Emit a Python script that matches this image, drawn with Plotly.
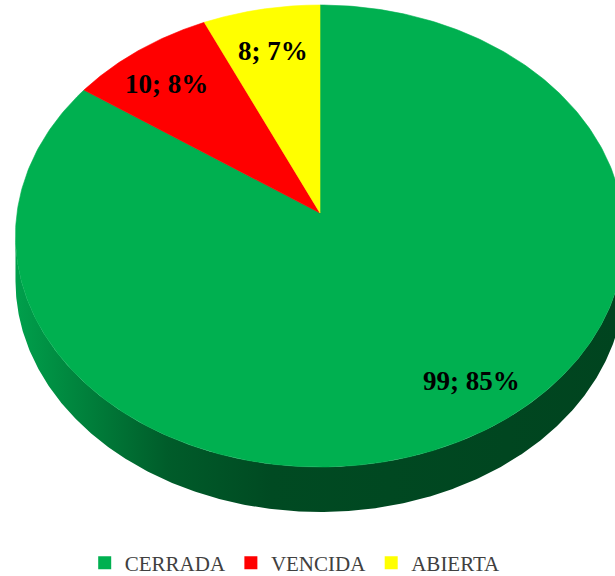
import numpy as np
import plotly.graph_objects as go

# ---------------- data ----------------
categories = ["CERRADA", "VENCIDA", "ABIERTA"]
values = [99, 10, 8]
pct_labels = ["85%", "8%", "7%"]

# ---------------- style ----------------
colors = ["#00B050", "#FF0000", "#FFFF00"]
side_scale = [[0.0, "#00a04c"], [0.08, "#008a40"], [0.25, "#005c2a"],
              [0.42, "#004a22"], [1.0, "#00441f"]]

W, H = 615, 576
CX, CY = 320, 213        # pie centre (vertex) in pixel space
RX, RY = 303, 228.7      # radii of the tilted disc
K = 0.0996               # perspective factor
DEPTH = 45               # thickness of the 3D side
LABEL_R = 0.78
label_nudge = [(34, -2), (-10, 0), (0, 0)]


def proj(theta_deg, r=1.0):
    t = np.radians(theta_deg)
    u = r * np.sin(t)
    v = -r * np.cos(t)
    w = 1 - K * v
    return CX + RX * u / w, CY + RY * v / w


total = float(sum(values))
bounds = np.concatenate([[0], np.cumsum(values)]) / total * 360.0

fig = go.Figure()

# side (front visible arc)
th_all = np.linspace(0, 360, 1441)
xa, ya = proj(th_all)
i_right = int(np.argmax(xa[: 720]))
i_left = 720 + int(np.argmin(xa[720:]))
front_start, front_end = th_all[i_right], th_all[i_left]

for i, cat in enumerate(categories):
    a1, a2 = max(bounds[i], front_start), min(bounds[i + 1], front_end)
    if a2 <= a1:
        continue
    th = np.linspace(a1, a2, 400)
    x, y = proj(th)
    xs = np.concatenate([x, x[::-1], x[:1]])
    ys = np.concatenate([y, y[::-1] + DEPTH, y[:1]])
    fig.add_trace(go.Scatter(
        x=xs, y=ys, mode="lines", fill="toself",
        line=dict(width=0), fillgradient=dict(type="horizontal", colorscale=side_scale),
        hoverinfo="skip", showlegend=False))

# top face slices
for i, cat in enumerate(categories):
    th = np.linspace(bounds[i], bounds[i + 1], 400)
    x, y = proj(th)
    xs = np.concatenate([[CX], x, [CX]])
    ys = np.concatenate([[CY], y, [CY]])
    fig.add_trace(go.Scatter(
        x=xs, y=ys, mode="lines", fill="toself", fillcolor=colors[i],
        line=dict(width=0.6, color=colors[i]),
        hoverinfo="skip", showlegend=False))

# labels
for i, cat in enumerate(categories):
    mid = (bounds[i] + bounds[i + 1]) / 2
    lx, ly = proj(mid, LABEL_R)
    fig.add_annotation(
        x=lx + label_nudge[i][0], y=ly + label_nudge[i][1],
        text=f"<b>{values[i]}; {pct_labels[i]}</b>", showarrow=False,
        font=dict(family="Liberation Serif", size=27, color="#000000"),
        xanchor="center", yanchor="middle")

# legend entries
for i, cat in enumerate(categories):
    fig.add_trace(go.Scatter(
        x=[None], y=[None], mode="markers", name=cat,
        marker=dict(symbol="square", size=13, color=colors[i])))

fig.update_layout(
    width=W, height=H, autosize=False,
    margin=dict(l=0, r=0, t=0, b=0, autoexpand=False),
    paper_bgcolor="white", plot_bgcolor="white",
    xaxis=dict(range=[0, W], visible=False, fixedrange=True),
    yaxis=dict(range=[H, 0], visible=False, fixedrange=True),
    showlegend=True,
    legend=dict(orientation="h", x=0.48, xanchor="center", y=1 - 563 / H,
                yanchor="middle", font=dict(family="Liberation Serif", size=21,
                                            color="#404040"),
                itemwidth=30, traceorder="normal", bgcolor="rgba(0,0,0,0)"),
)

fig.write_html(
    "out.html",
    config={"displayModeBar": False},
    post_script="document.body.style.margin='0';document.body.style.overflow='hidden';",
)
